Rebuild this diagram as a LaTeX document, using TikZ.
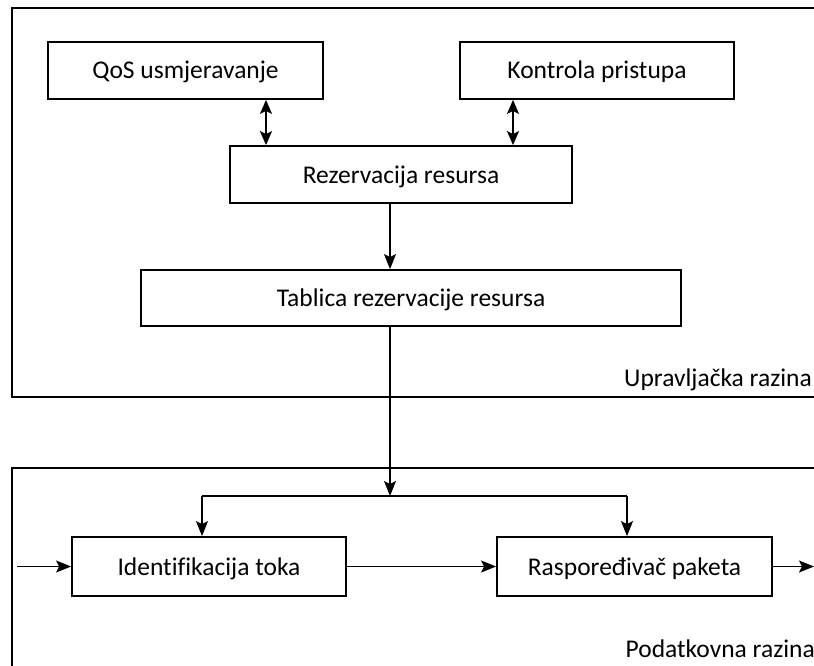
\documentclass[tikz,border=0pt]{standalone}
\usepackage{fontspec}
\setmainfont[Ligatures=NoCommon]{Carlito}
\usetikzlibrary{arrows.meta}
\begin{document}
\begin{tikzpicture}[x=1pt,y=-1pt,
  box/.style={draw, line width=1.8pt, inner sep=0pt, text height=17pt, text depth=0pt, font=\fontsize{25.5}{30}\selectfont, text=black},
  tip/.style={Stealth[length=15pt,width=12pt,inset=3pt]},
  arr/.style={-{Stealth[length=15pt,width=12pt,inset=3pt]}, line width=1.3pt},
  dbl/.style={{Stealth[length=14pt,width=12pt,inset=3pt]}-{Stealth[length=14pt,width=12pt,inset=3pt]}, line width=2pt},
  frame/.style={line width=1.8pt},
  lbl/.style={font=\fontsize{25.5}{30}\selectfont, inner sep=0pt, anchor=base east}]
\useasboundingbox (0,0) rectangle (814,666);
% frames
\draw[frame] (820,8) -- (12,8) -- (12,397) -- (820,397);
\draw[frame] (820,468) -- (12,468) -- (12,672);
% nodes
\node[box, minimum width=275pt, minimum height=57pt] (qos) at (185.5,70.5) {QoS usmjeravanje};
\node[box, minimum width=274pt, minimum height=57pt] (kon) at (597,70.5) {Kontrola pristupa};
\node[box, minimum width=342pt, minimum height=57pt] (rez) at (401,174.5) {Rezervacija resursa};
\node[box, minimum width=540pt, minimum height=56pt] (tab) at (411,298) {Tablica rezervacije resursa};
\node[box, minimum width=274pt, minimum height=59pt] (ide) at (209,566.5) {Identifikacija toka};
\node[box, minimum width=275pt, minimum height=59pt] (ras) at (634.5,566.5) {Raspoređivač paketa};
\node[lbl] (up) at (812,386) {Upravljačka razina};
\node[lbl] (po) at (815,657) {Podatkovna razina};
% connectors
\draw[dbl] ([xshift=80.5pt]qos.south) -- ([xshift=80.5pt]qos.south |- rez.north);
\draw[dbl] ([xshift=-84pt]kon.south) -- ([xshift=-84pt]kon.south |- rez.north);
\draw[arr] ([xshift=-11pt]rez.south) -- ([xshift=-11pt]rez.south |- tab.north);
\coordinate (j) at (390,496);
\draw[arr] ([xshift=-21pt]tab.south) -- (j);
\coordinate (bl) at ([xshift=-7pt]ide.north |- j);
\coordinate (br) at ([xshift=-7.5pt]ras.north |- j);
\draw[arr] (bl) -- ([xshift=-7pt]ide.north);
\draw[arr] (br) -- ([xshift=-7.5pt]ras.north);
\draw[line width=1.3pt] (bl) -- (br);
\coordinate (in) at (17,566.5);
\coordinate (out) at (814,566.5);
\draw[arr] (in) -- (ide.west);
\draw[arr] (ide.east) -- (ras.west);
\draw[arr] (ras.east) -- (out);
\end{tikzpicture}
\end{document}
